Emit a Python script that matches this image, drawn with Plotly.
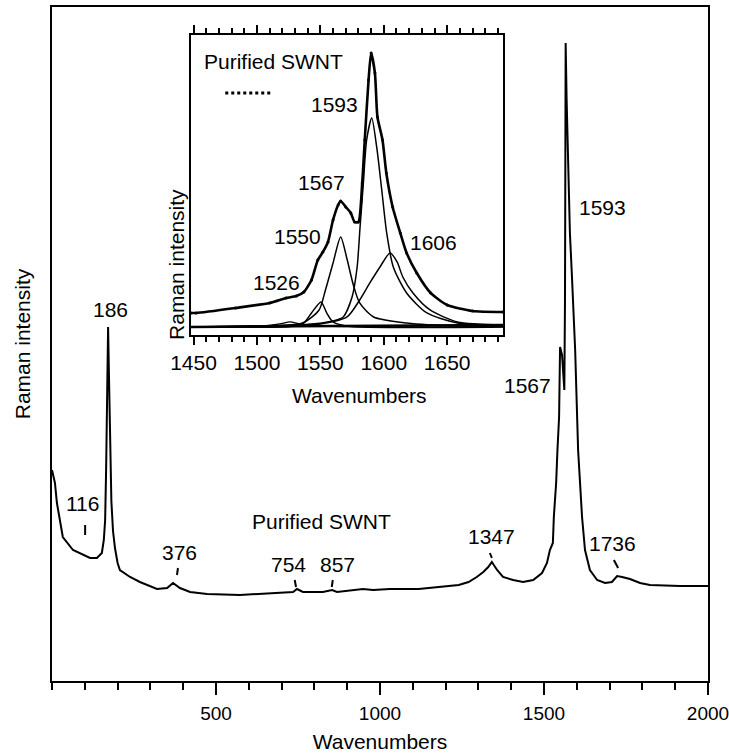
import plotly.graph_objects as go

# ---------------- main spectrum (wavenumber, intensity a.u.) ----------------
main_w = [0, 9, 15, 33, 64, 116, 137, 152, 158, 162, 165, 167, 170, 171, 174, 177, 181, 186,
          192, 200, 207, 238, 268, 320, 351, 369, 390, 421, 473, 573, 674, 735, 747, 765, 826,
          854, 869, 948, 979, 1030, 1118, 1189, 1240, 1270, 1295, 1315, 1330, 1341, 1357, 1375, 1406,
          1436, 1467, 1494, 1509, 1518, 1527, 1530, 1537, 1541, 1546, 1549, 1555, 1559,
          1562, 1564, 1565, 1566, 1569, 1573, 1579, 1585, 1595, 1604, 1610, 1616, 1625,
          1640, 1662, 1686, 1707, 1723, 1738, 1762, 1793, 1823, 1915, 2000]
main_i = [211, 198, 178, 144, 131, 123, 123, 128, 141, 161, 211, 281, 341, 354, 300, 230, 180, 150,
          133, 118, 111, 104, 99, 92, 93, 98, 93, 89, 87, 86, 88, 89, 92, 89, 89,
          91, 89, 92, 91, 92, 92, 94, 96, 99, 104, 109, 114, 119, 111, 104, 101,
          99, 101, 108, 118, 131, 138, 164, 198, 231, 264, 334, 326, 306,
          291, 381, 531, 638, 581, 514, 448, 406, 331, 231, 198, 164, 131,
          111, 101, 98, 99, 105, 104, 102, 98, 96, 95, 95]

main_labels = ["116", "186", "376", "754", "857", "1347", "1567", "1593", "1736"]
main_label_w = [94, 177, 390, 720, 869, 1341, 1451, 1677, 1710]
main_label_i = [178, 372, 129, 117, 117, 145, 296, 474, 138]
# short pointer strokes below labels (w0, i0, w1, i1)
pointer_w0 = [101, 384, 740, 856, 1335, 1713]
pointer_i0 = [156, 113, 101, 101, 128, 121]
pointer_w1 = [101, 381, 744, 853, 1341, 1726]
pointer_i1 = [146, 106, 94, 94, 123, 113]

main_sample_text = "Purified SWNT"
main_sample_w, main_sample_i = 822, 160

# ---------------- inset (1450-1700 region) ----------------
meas_w = [1448, 1452, 1483, 1510, 1523, 1531, 1537, 1543, 1548, 1552, 1556, 1560, 1564, 1566,
          1570, 1574, 1577, 1580, 1583, 1585, 1588, 1590, 1593, 1595, 1599, 1602, 1607, 1613,
          1618, 1626, 1637, 1650, 1670, 1694]
meas_i = [22, 22, 27, 32, 37, 39, 43, 55, 75, 83, 93, 115, 130, 134,
          128, 122, 113, 113, 152, 195, 255, 282, 262, 218, 195, 162, 128, 102,
          82, 62, 42, 30, 24, 23]

base_w = [1448, 1694]
base_i = [8, 10]

c1593_w = [1448, 1494, 1534, 1560, 1568, 1575, 1579, 1581.3, 1583.9, 1586.5, 1590.5, 1594.4,
           1598.4, 1602.3, 1607.5, 1618, 1634, 1658, 1694]
c1593_i = [8, 9, 10, 14, 18, 38, 68, 108, 152, 195, 217, 188, 145, 102, 68, 42, 22, 12, 10]

c1567_w = [1448, 1502, 1536, 1549, 1554, 1560, 1566, 1571, 1576, 1581, 1592, 1618, 1658, 1694]
c1567_i = [8, 9, 12, 25, 45, 72, 98, 76, 50, 32, 18, 12, 9, 9]

c1606_w = [1448, 1510, 1550, 1571, 1581, 1589, 1597, 1605, 1610.5, 1615, 1623, 1636.5, 1658, 1694]
c1606_i = [8, 8, 11, 18, 35, 52, 68, 82, 73, 58, 42, 25, 13, 10]

c1550_w = [1448, 1530, 1537, 1543, 1550.5, 1555, 1560, 1570, 1694]
c1550_i = [8, 9, 12, 22, 33, 22, 13, 9, 8]

c1526_w = [1448, 1505, 1518, 1526, 1534, 1547, 1694]
c1526_i = [8, 9, 11, 13, 11, 9, 8]

inset_labels = ["1593", "1567", "1550", "1526", "1606"]
inset_label_w = [1561, 1551, 1532, 1515.5, 1639]
inset_label_i = [230, 152, 98, 52, 92]

inset_sample_text = "Purified SWNT"
inset_sample_w, inset_sample_i = 1457, 273
legend_dots_w = [1475, 1512]
legend_dots_i = 242

main_xticks = [500, 1000, 1500, 2000]
inset_xticks = [1450, 1500, 1550, 1600, 1650]

FONT = "Liberation Sans, Arial, Helvetica, sans-serif"
FS = 21
K = "black"

fig = go.Figure()
fig.add_trace(go.Scatter(x=main_w, y=main_i, mode="lines",
                         line=dict(color=K, width=2), xaxis="x", yaxis="y",
                         showlegend=False, hoverinfo="skip"))

for cw, ci, lw in [(base_w, base_i, 2.5), (c1526_w, c1526_i, 1.3), (c1550_w, c1550_i, 1.5),
                   (c1567_w, c1567_i, 1.5), (c1606_w, c1606_i, 1.5), (c1593_w, c1593_i, 1.5)]:
    fig.add_trace(go.Scatter(x=cw, y=ci, mode="lines",
                             line=dict(color=K, width=lw, shape="spline", smoothing=0.7),
                             xaxis="x2", yaxis="y2", showlegend=False, hoverinfo="skip"))
fig.add_trace(go.Scatter(x=meas_w, y=meas_i, mode="lines+markers",
                         line=dict(color=K, width=2.6, shape="spline", smoothing=0.6),
                         marker=dict(color=K, size=3),
                         xaxis="x2", yaxis="y2", showlegend=False, hoverinfo="skip"))

ann = []
for t, w, i in zip(main_labels, main_label_w, main_label_i):
    ann.append(dict(text=t, x=w, y=i, xref="x", yref="y", showarrow=False,
                    font=dict(family=FONT, size=FS, color=K)))
ann.append(dict(text=main_sample_text, x=main_sample_w, y=main_sample_i, xref="x", yref="y",
                showarrow=False, font=dict(family=FONT, size=FS, color=K)))
for t, w, i in zip(inset_labels, inset_label_w, inset_label_i):
    ann.append(dict(text=t, x=w, y=i, xref="x2", yref="y2", showarrow=False,
                    font=dict(family=FONT, size=FS, color=K)))
ann.append(dict(text=inset_sample_text, x=inset_sample_w, y=inset_sample_i, xref="x2", yref="y2",
                xanchor="left", showarrow=False, font=dict(family=FONT, size=FS, color=K)))
# inset axis titles
ann.append(dict(text="Raman intensity", x=0.1692, y=0.733, xref="paper", yref="paper",
                textangle=-90, showarrow=False, font=dict(family=FONT, size=FS, color=K)))
ann.append(dict(text="Wavenumbers", x=0.468, y=0.4243, xref="paper", yref="paper",
                showarrow=False, font=dict(family=FONT, size=FS, color=K)))

shapes = []
for a, b, c, d in zip(pointer_w0, pointer_i0, pointer_w1, pointer_i1):
    shapes.append(dict(type="line", xref="x", yref="y", x0=a, y0=b, x1=c, y1=d,
                       line=dict(color=K, width=2)))
shapes.append(dict(type="line", xref="x2", yref="y2", x0=legend_dots_w[0], y0=legend_dots_i,
                   x1=legend_dots_w[1], y1=legend_dots_i, line=dict(color=K, width=3, dash="dot")))

fig.update_layout(
    width=729, height=753,
    margin=dict(l=52, r=21, t=7, b=72, autoexpand=False),
    paper_bgcolor="white", plot_bgcolor="white",
    font=dict(family=FONT, size=FS, color=K),
    annotations=ann, shapes=shapes,
    xaxis=dict(range=[0, 2000], domain=[0, 1], showline=True, linecolor=K, linewidth=2,
               mirror=True, showgrid=False, zeroline=False, automargin=False,
               tickvals=main_xticks, ticks="outside", ticklen=12, tickwidth=2, tickcolor=K,
               ticklabelstandoff=2, ticklabeloverflow="allow",
               minor=dict(dtick=100, tick0=0, ticks="outside", ticklen=7, tickwidth=1.5, tickcolor=K),
               tickfont=dict(family=FONT, size=19, color=K),
               title=dict(text="Wavenumbers", standoff=13, font=dict(family=FONT, size=FS, color=K))),
    yaxis=dict(range=[0, 674], domain=[0, 1], showline=True, linecolor=K, linewidth=2,
               mirror=True, showgrid=False, zeroline=False, ticks="", showticklabels=False,
               automargin=False,
               title=dict(text="Raman intensity", standoff=14, font=dict(family=FONT, size=FS, color=K))),
    xaxis2=dict(range=[1448, 1694], domain=[0.2119, 0.6875], anchor="y2",
                showline=True, linecolor=K, linewidth=2, mirror="ticks",
                showgrid=False, zeroline=False,
                tickvals=inset_xticks, ticks="outside", ticklen=8, tickwidth=2, tickcolor=K,
                minor=dict(dtick=10, tick0=1450, ticks="outside", ticklen=5, tickwidth=1.5, tickcolor=K),
                tickfont=dict(family=FONT, size=FS, color=K)),
    yaxis2=dict(range=[0, 300], domain=[0.5134, 0.9585], anchor="x2",
                showline=True, linecolor=K, linewidth=2, mirror=True,
                showgrid=False, zeroline=False, ticks="", showticklabels=False),
)

fig.write_html("out.html")
